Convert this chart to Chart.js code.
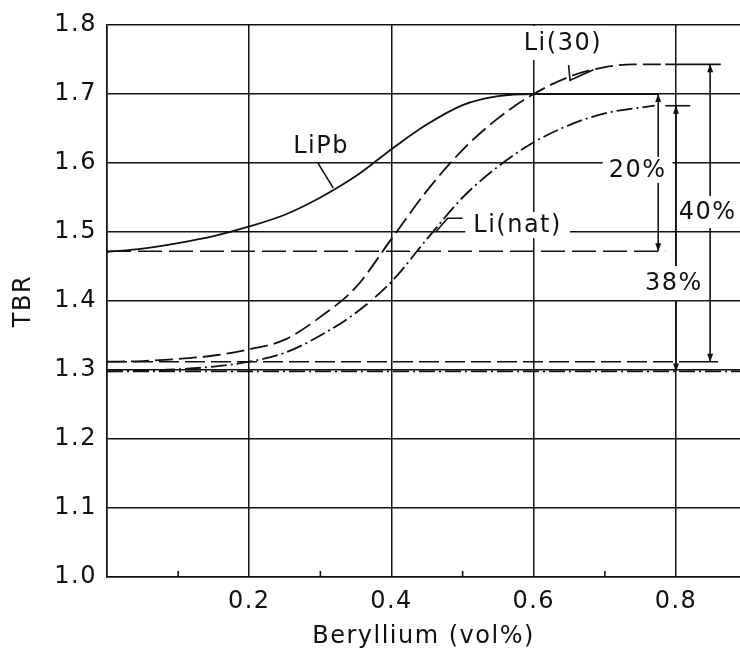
<!DOCTYPE html>
<html>
<head>
<meta charset="utf-8">
<script src="https://cdn.jsdelivr.net/npm/chart.js@4.4.0/dist/chart.umd.min.js"></script>
<style>
  html, body { margin: 0; padding: 0; background: #fff; }
  #wrap { width: 740px; height: 657px; }
</style>
</head>
<body>
<div id="wrap"><canvas id="tbrChart"></canvas></div>
<script>
// TBR vs beryllium content, three breeder options
const xTicks = [0, 0.2, 0.4, 0.6, 0.8];
const xMinorTicks = [0.1, 0.3, 0.5, 0.7];
const yTicks = [1.0, 1.1, 1.2, 1.3, 1.4, 1.5, 1.6, 1.7, 1.8];

const lipbX = [0, 0.05, 0.1, 0.15, 0.2, 0.25, 0.3, 0.35, 0.4, 0.45, 0.5, 0.55, 0.6, 0.7, 0.775];
const lipbY = [1.471, 1.476, 1.484, 1.494, 1.508, 1.525, 1.550, 1.581, 1.620, 1.656, 1.684, 1.697, 1.700, 1.700, 1.700];

const li30X = [0, 0.05, 0.1, 0.15, 0.2, 0.25, 0.3, 0.35, 0.4, 0.45, 0.5, 0.55, 0.6, 0.65, 0.7, 0.74, 0.785];
const li30Y = [1.312, 1.313, 1.316, 1.321, 1.330, 1.344, 1.377, 1.420, 1.490, 1.560, 1.619, 1.665, 1.700, 1.725, 1.739, 1.743, 1.743];

const linatX = [0, 0.05, 0.1, 0.15, 0.2, 0.25, 0.3, 0.35, 0.4, 0.45, 0.5, 0.55, 0.6, 0.65, 0.7, 0.77];
const linatY = [1.298, 1.299, 1.301, 1.305, 1.312, 1.325, 1.350, 1.383, 1.428, 1.490, 1.550, 1.595, 1.630, 1.655, 1.672, 1.683];

// Be-free reference levels: LiPb, Li(30), Li(nat)
const baseLevels = [1.472, 1.312, 1.298];
const baseEnds = [0.785, 0.81, 0.89];

// short solid end marks at the brackets
const markLevels = [1.683, 1.743, 1.312];
const markFrom = [0.785, 0.785, 0.81];
const markTo = [0.82, 0.863, 0.859];

// gain brackets
const bracketX = [0.775, 0.8, 0.848];
const bracketTop = [1.700, 1.683, 1.743];
const bracketBottom = [1.472, 1.298, 1.312];

const ink = '#111';
const baseDashes = [[24, 7], [20, 6], [16, 4, 2, 4]];

Chart.defaults.font.family = '"DejaVu Sans", sans-serif';
Chart.defaults.font.size = 24;
Chart.defaults.color = ink;

function toPoints(xs, ys) {
  return xs.map((v, i) => ({ x: v, y: ys[i] }));
}

function arrowHead(ctx, px, py, dir) {
  ctx.beginPath();
  ctx.moveTo(px, py);
  ctx.lineTo(px - 3, py - dir * 8);
  ctx.lineTo(px + 3, py - dir * 8);
  ctx.closePath();
  ctx.fill();
}

const annotate = {
  id: 'annotate',
  beforeDraw(chart) {
    chart.ctx.letterSpacing = '1.5px';
  },
  afterDatasetsDraw(chart, args, opts) {
    const { ctx, scales: { x, y } } = chart;
    ctx.save();
    ctx.strokeStyle = ink;
    ctx.fillStyle = ink;
    ctx.lineWidth = 1.6;

    xMinorTicks.forEach((v) => {
      const px = x.getPixelForValue(v);
      ctx.beginPath();
      ctx.moveTo(px, y.bottom);
      ctx.lineTo(px, y.bottom - 6);
      ctx.stroke();
    });

    bracketX.forEach((bx, i) => {
      const px = x.getPixelForValue(bx);
      const top = y.getPixelForValue(bracketTop[i]);
      const bot = y.getPixelForValue(bracketBottom[i]);
      ctx.beginPath();
      ctx.moveTo(px, top);
      ctx.lineTo(px, bot);
      ctx.stroke();
      arrowHead(ctx, px, top, -1);
      arrowHead(ctx, px, bot, 1);
    });

    opts.leaders.forEach((pts) => {
      ctx.beginPath();
      pts.forEach((p, i) => {
        const px = x.getPixelForValue(p[0]);
        const py = y.getPixelForValue(p[1]);
        if (i === 0) ctx.moveTo(px, py);
        else ctx.lineTo(px, py);
      });
      ctx.stroke();
    });

    ctx.font = '24px "DejaVu Sans", sans-serif';
    ctx.letterSpacing = '1.5px';
    ctx.textBaseline = 'middle';
    opts.labels.forEach((l) => {
      const px = x.getPixelForValue(l.x);
      const py = y.getPixelForValue(l.y);
      const w = ctx.measureText(l.text).width;
      const left = l.align === 'left' ? px : px - w / 2;
      if (l.bg) {
        ctx.fillStyle = '#fff';
        ctx.fillRect(left - l.bg[0], py - l.bg[1], w + 2 * l.bg[0], 2 * l.bg[1]);
      }
      ctx.fillStyle = ink;
      ctx.textAlign = 'left';
      ctx.fillText(l.text, left, py + 1);
    });
    ctx.restore();
  },
};

const datasets = [
  {
    label: 'LiPb',
    data: toPoints(lipbX, lipbY),
    borderColor: ink,
    borderWidth: 1.8,
    cubicInterpolationMode: 'monotone',
  },
  {
    label: 'Li(30)',
    data: toPoints(li30X, li30Y),
    borderColor: ink,
    borderWidth: 1.8,
    borderDash: [18, 6],
    cubicInterpolationMode: 'monotone',
  },
  {
    label: 'Li(nat)',
    data: toPoints(linatX, linatY),
    borderColor: ink,
    borderWidth: 1.8,
    borderDash: [16, 4, 2, 4],
    cubicInterpolationMode: 'monotone',
  },
];

baseLevels.forEach((lvl, i) => {
  datasets.push({
    label: 'base ' + i,
    data: [{ x: 0, y: lvl }, { x: baseEnds[i], y: lvl }],
    borderColor: ink,
    borderWidth: 1.6,
    borderDash: baseDashes[i],
  });
});

markLevels.forEach((lvl, i) => {
  datasets.push({
    label: 'mark ' + i,
    data: [{ x: markFrom[i], y: lvl }, { x: markTo[i], y: lvl }],
    borderColor: ink,
    borderWidth: 1.6,
  });
});

new Chart(document.getElementById('tbrChart'), {
  type: 'line',
  data: { datasets },
  options: {
    responsive: true,
    maintainAspectRatio: false,
    animation: false,
    layout: { padding: { top: 25, right: 0, bottom: 0, left: 0 } },
    elements: { point: { radius: 0 } },
    scales: {
      x: {
        type: 'linear',
        min: 0,
        max: 0.89,
        afterBuildTicks: (scale) => {
          scale.ticks = xTicks.map((v) => ({ value: v }));
        },
        afterFit: (scale) => {
          scale.height = 80;
        },
        ticks: {
          padding: 10,
          callback: (v) => (v === 0 ? '' : v.toFixed(1)),
        },
        grid: { color: ink, lineWidth: 1.5, drawTicks: false },
        border: { color: ink, width: 1.5 },
        title: {
          display: true,
          text: 'Beryllium (vol%)',
          padding: { top: 4, bottom: 6 },
        },
      },
      y: {
        min: 1.0,
        max: 1.8,
        afterBuildTicks: (scale) => {
          scale.ticks = yTicks.map((v) => ({ value: v }));
        },
        afterFit: (scale) => {
          scale.width = 107;
        },
        ticks: {
          padding: 10,
          callback: (v) => v.toFixed(1),
        },
        grid: { color: ink, lineWidth: 1.5, drawTicks: false },
        border: { color: ink, width: 1.5 },
        title: {
          display: true,
          text: 'TBR',
          padding: { top: 9, bottom: 4 },
        },
      },
    },
    plugins: {
      legend: { display: false },
      tooltip: { enabled: false },
      annotate: {
        leaders: [
          [[0.296, 1.601], [0.318, 1.564]],
          [[0.649, 1.742], [0.651, 1.720], [0.684, 1.735]],
          [[0.462, 1.500], [0.479, 1.520], [0.5, 1.520]],
        ],
        labels: [
          { text: 'LiPb', x: 0.301, y: 1.625 },
          { text: 'Li(30)', x: 0.641, y: 1.774, bg: [4, 17] },
          { text: 'Li(nat)', x: 0.515, y: 1.51, align: 'left', bg: [8, 13] },
          { text: '20%', x: 0.746, y: 1.590, bg: [6, 13] },
          { text: '38%', x: 0.797, y: 1.426, bg: [4, 17] },
          { text: '40%', x: 0.804, y: 1.529, align: 'left', bg: [1, 16] },
        ],
      },
    },
  },
  plugins: [annotate],
});
</script>
</body>
</html>
